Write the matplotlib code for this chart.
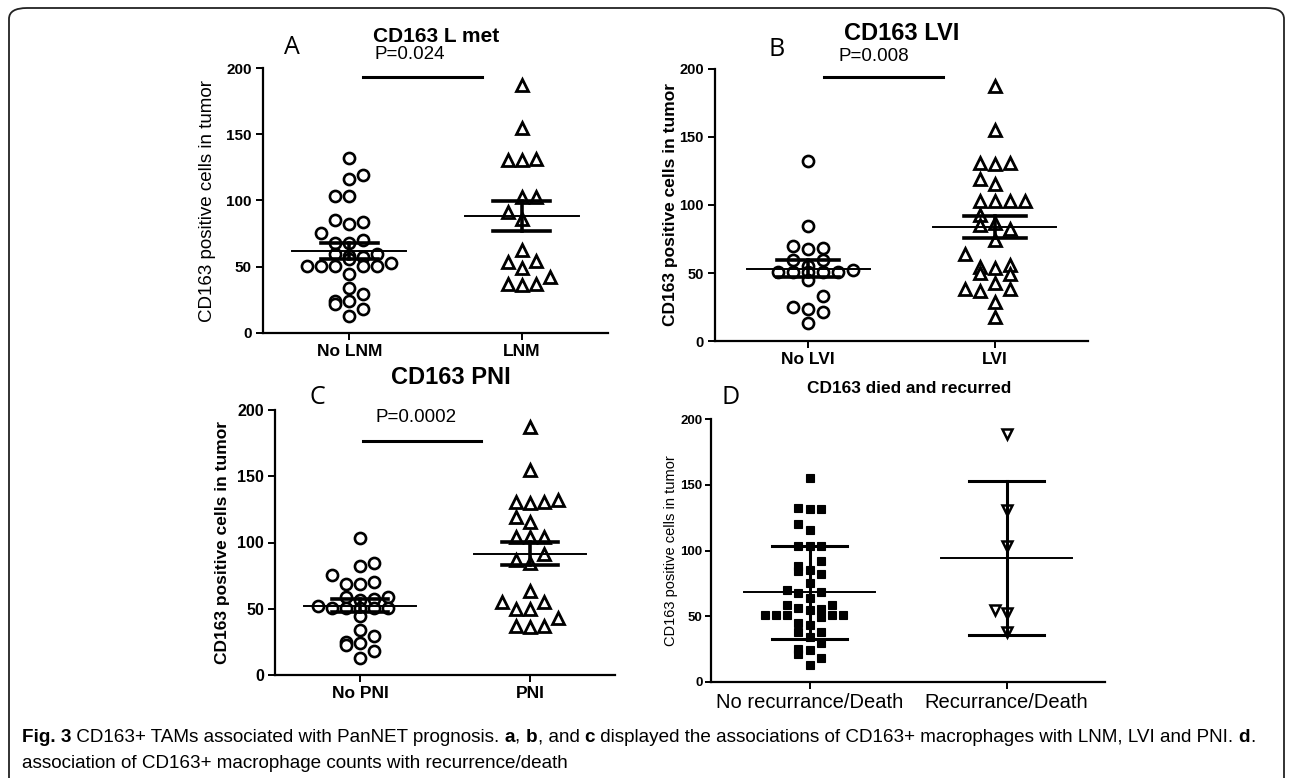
import matplotlib

matplotlib.use("Agg")
import matplotlib.pyplot as plt
from matplotlib import font_manager
from matplotlib.patches import FancyBboxPatch

plt.rcParams["font.family"] = ["Liberation Sans", "DejaVu Sans"]

# ---- data: (value, column slot) ----
a_no_lnm = [132.4, 116.3, 119.5, 103.7, 103.2, 85.2, 82.2, 84.0, 75.2, 68.3, 68.3, 70.1,
            59.3, 58.0, 57.5, 59.3, 55.5, 50.4, 50.4, 50.4, 50.4, 50.4, 52.5, 44.4,
            33.8, 29.3, 24.2, 22.2, 24.2, 17.9, 12.9]
a_no_lnm_slot = [0, 0, 1, -1, 0, -1, 0, 1, -2, -1, 0, 1,
                 -1, 0, 1, 2, 0, -3, -2, -1, 1, 2, 3, 0,
                 0, 1, -1, -1, 0, 1, 0]
a_lnm = [187.4, 154.6, 130.6, 130.6, 131.4, 102.9, 102.9, 91.5, 85.8, 63.0, 53.7, 48.7,
         54.5, 37.3, 36.6, 37.3, 42.4]
a_lnm_slot = [0, 0, -1, 0, 1, 0, 1, -1, 0, 0, -1, 0, 1, -1, 0, 1, 2]

b_no_lvi = [132.5, 84.2, 70.2, 67.5, 68.2, 59.6, 55.5, 59.6, 50.6, 50.6, 50.6, 50.6,
            50.6, 52.3, 44.9, 33.4, 25.3, 23.3, 21.6, 13.0]
b_no_lvi_slot = [0, 0, -1, 0, 1, -1, 0, 1, -2, -1, 0, 1, 2, 3, 0, 1, -1, 0, 1, 0]
b_lvi = [187.7, 154.8, 130.8, 130.0, 130.8, 119.3, 115.3, 102.6, 102.6, 102.6, 103.3,
         92.8, 85.4, 87.1, 82.2, 74.4, 63.8, 54.7, 53.5, 56.0, 49.8, 49.3, 42.5,
         38.3, 37.1, 38.0, 29.0, 17.9]
b_lvi_slot = [0, 0, -1, 0, 1, -1, 0, -1, 0, 1, 2, -1, -1, 0, 1, 0, -2, -1, 0, 1, -1, 1,
              0, -2, -1, 1, 0, 0]

c_no_pni = [103.1, 82.5, 84.3, 75.5, 68.4, 68.4, 70.2, 59.1, 56.6, 57.4, 59.1, 52.1,
            50.3, 50.3, 50.3, 50.3, 50.3, 44.5, 34.0, 29.7, 25.2, 22.6, 23.9, 18.4, 13.1]
c_no_pni_slot = [0, 0, 1, -2, -1, 0, 1, -1, 0, 1, 2, -3, -2, -1, 0, 1, 2, 0, 0, 1, -1,
                 -1, 0, 1, 0]
c_pni = [187.4, 154.7, 130.8, 130.1, 130.8, 132.1, 119.5, 115.2, 104.4, 104.4, 104.4,
         91.3, 86.8, 84.8, 63.6, 54.8, 49.6, 49.6, 54.8, 37.2, 36.5, 37.2, 42.8]
c_pni_slot = [0, 0, -1, 0, 1, 2, -1, 0, -1, 0, 1, 1, -1, 0, 0, -2, -1, 0, 1, -1, 0, 1, 2]

d_no_rec = [155.1, 132.2, 131.2, 131.2, 119.8, 115.7, 103.6, 103.6, 103.6, 91.9, 88.0,
            84.3, 85.0, 82.5, 75.4, 70.3, 67.8, 68.3, 64.0, 58.9, 58.9, 56.3, 54.6, 55.8,
            50.8, 50.8, 50.8, 49.5, 50.8, 50.8, 44.9, 43.7, 38.1, 38.1, 34.3, 29.7, 25.4,
            21.6, 24.1, 18.3, 13.2]
d_no_rec_slot = [0, -1, 0, 1, -1, 0, -1, 0, 1, 1, -1, -1, 0, 1, 0, -2, -1, 1, 0, -2, 2,
                 -1, 0, 1, -4, -3, -2, 1, 2, 3, -1, 0, -1, 1, 0, 1, -1, -1, 0, 1, 0]
d_rec = [188.3, 130.7, 103.6, 54.6, 52.8, 38.1]
d_rec_slot = [0, 0, 0, -1, 0, 0]

# mean, lower, upper of the summary lines
a_stats = [(61.8, 56.2, 67.6), (88.3, 76.9, 99.6)]
b_stats = [(53.3, 46.9, 59.6), (83.7, 75.6, 92.0)]
c_stats = [(52.1, 47.8, 57.4), (91.6, 83.0, 100.6)]
d_stats = [(68.3, 33.0, 103.3), (94.2, 36.0, 152.5)]

a_cats = ["No LNM", "LNM"]
b_cats = ["No LVI", "LVI"]
c_cats = ["No PNI", "PNI"]
d_cats = ["No recurrance/Death", "Recurrance/Death"]

p_text = {"A": "P=0.024", "B": "P=0.008", "C": "P=0.0002"}
ylab = "CD163 positive cells in tumor"

W, H = 1292, 778
fig = plt.figure(figsize=(W / 100, H / 100), dpi=100)


def frac(x, y):
    return x / W, 1 - y / H


def make_ax(left, top, right, bottom):
    x0, y1 = frac(left, top)
    x1, y0 = frac(right, bottom)
    ax = fig.add_axes([x0, y0, x1 - x0, y1 - y0])
    ax.set_xlim(-0.5, 1.5)
    ax.set_ylim(0, 200)
    for s in ["top", "right"]:
        ax.spines[s].set_visible(False)
    for s in ["left", "bottom"]:
        ax.spines[s].set_linewidth(1.6)
    ax.set_yticks([0, 50, 100, 150, 200])
    ax.set_xticks([0, 1])
    ax.tick_params(direction="out", width=1.4, length=5, pad=3)
    return ax


def place_ylabel(ax, text, x_px, left, right, **kw):
    ax.set_ylabel(text, **kw)
    ax.yaxis.label.set_verticalalignment("center")
    ax.yaxis.set_label_coords((x_px - left) / (right - left), 0.5)


def swarm(ax, pos, vals, slots, dx, **kw):
    xs = [pos + s * dx for s in slots]
    ax.plot(xs, vals, linestyle="none", zorder=2, clip_on=False, **kw)


def summary(ax, stats, mean_hw=0.33, cap_hw=0.166, lw_bar=2.6, lw_mean=1.4):
    for i, (m, lo, hi) in enumerate(stats):
        ax.plot([i - mean_hw, i + mean_hw], [m, m], color="black", lw=lw_mean, zorder=3)
        ax.plot([i - cap_hw, i + cap_hw], [lo, lo], color="black", lw=lw_bar, zorder=3)
        ax.plot([i - cap_hw, i + cap_hw], [hi, hi], color="black", lw=lw_bar, zorder=3)
        ax.plot([i, i], [lo, hi], color="black", lw=lw_bar, zorder=3)


def bold_yticks(ax, size):
    for t in ax.get_yticklabels():
        t.set_fontsize(size)
        t.set_fontweight("bold")


circ = dict(marker="o", markersize=8.0, markerfacecolor="white",
            markeredgecolor="black", markeredgewidth=1.9)
tri = dict(marker="^", markersize=8.0, markerfacecolor="white",
           markeredgecolor="black", markeredgewidth=2.0)

# ---- panel A ----
axA = make_ax(263, 68, 608, 333)
swarm(axA, 0, a_no_lnm, a_no_lnm_slot, 0.081, **circ)
swarm(axA, 1, a_lnm, a_lnm_slot, 0.081, **tri)
summary(axA, a_stats)
axA.set_xticklabels(a_cats, fontsize=12.5, fontweight="bold")
bold_yticks(axA, 11)
place_ylabel(axA, ylab, 207, 263, 608, fontsize=13.5)
axA.plot([0.08, 0.77], [193, 193], color="black", lw=2.2, clip_on=False)
axA.text(0.35, 210, p_text["A"], ha="center", va="center", fontsize=13.5, clip_on=False)

# ---- panel B ----
axB = make_ax(715, 69, 1088, 341)
swarm(axB, 0, b_no_lvi, b_no_lvi_slot, 0.08, **circ)
swarm(axB, 1, b_lvi, b_lvi_slot, 0.08, **tri)
summary(axB, b_stats)
axB.set_xticklabels(b_cats, fontsize=12.5, fontweight="bold")
bold_yticks(axB, 10.5)
place_ylabel(axB, ylab, 671, 715, 1088, fontsize=12.5, fontweight="bold")
axB.plot([0.086, 0.72], [194, 194], color="black", lw=2.2, clip_on=False)
axB.text(0.35, 209, p_text["B"], ha="center", va="center", fontsize=13.5, clip_on=False)

# ---- panel C ----
axC = make_ax(275, 410, 615, 675)
swarm(axC, 0, c_no_pni, c_no_pni_slot, 0.083, **circ)
swarm(axC, 1, c_pni, c_pni_slot, 0.083, **tri)
summary(axC, c_stats)
axC.set_xticklabels(c_cats, fontsize=12.5, fontweight="bold")
bold_yticks(axC, 11.5)
place_ylabel(axC, ylab, 223, 275, 615, fontsize=12.5, fontweight="bold")
axC.plot([0.02, 0.71], [176.6, 176.6], color="black", lw=2.2, clip_on=False)
axC.text(0.33, 194, p_text["C"], ha="center", va="center", fontsize=13.5, clip_on=False)

# ---- panel D ----
axD = make_ax(711, 419, 1105, 682)
axD.tick_params(axis="y", length=4, pad=2)
sq = dict(marker="s", markersize=6.0, markerfacecolor="black",
          markeredgecolor="black", markeredgewidth=0.8)
vtri = dict(marker="v", markersize=6.5, markerfacecolor="white",
            markeredgecolor="black", markeredgewidth=1.8)
swarm(axD, 0, d_no_rec, d_no_rec_slot, 0.056, **sq)
swarm(axD, 1, d_rec, d_rec_slot, 0.056, **vtri)
summary(axD, d_stats, mean_hw=0.33, cap_hw=0.19, lw_bar=2.2, lw_mean=1.4)
axD.set_xticklabels(d_cats, fontsize=14.5)
bold_yticks(axD, 9.5)
place_ylabel(axD, ylab, 671, 711, 1105, fontsize=10.5)

# ---- titles and panel letters ----
titles = [("CD163 L met", 436, 37, 15), ("CD163 LVI", 902, 33, 17),
          ("CD163 PNI", 451, 378, 17), ("CD163 died and recurred", 909, 388, 12.4)]
for txt, x, y, fs in titles:
    fig.text(*frac(x, y), txt, ha="center", va="center", fontsize=fs, fontweight="bold")

letters = [("A", 292, 48), ("B", 777, 50), ("C", 317, 397), ("D", 731, 398)]
for txt, x, y in letters:
    fig.text(*frac(x, y), txt, ha="center", va="center", fontsize=18, family="Open Sans")

# ---- frame ----
fx0, fy1 = frac(9, 8)
fx1, fy0 = frac(1284, 800)
frame = FancyBboxPatch((fx0, fy0), fx1 - fx0, fy1 - fy0, transform=fig.transFigure,
                       boxstyle="round,pad=0,rounding_size=0.014", fill=False,
                       edgecolor="#222222", lw=1.3, clip_on=False)
fig.patches.append(frame)

# ---- caption with mixed bold ----
cap_family = "Liberation Sans Narrow"
try:
    font_manager.findfont(cap_family, fallback_to_default=False)
except Exception:
    cap_family = "Liberation Sans"

line1 = [("Fig. 3", True), (" CD163+ TAMs associated with PanNET prognosis. ", False),
         ("a", True), (", ", False), ("b", True), (", and ", False), ("c", True),
         (" displayed the associations of CD163+ macrophages with LNM, LVI and PNI. ", False),
         ("d", True), (".", False)]
line2 = [("association of CD163+ macrophage counts with recurrence/death", False)]

renderer = fig.canvas.get_renderer()
for parts, y in [(line1, 737), (line2, 764)]:
    x = 22
    for txt, bold in parts:
        t = fig.text(*frac(x, y), txt, ha="left", va="center", fontsize=13.6,
                     family=cap_family, fontweight="bold" if bold else "normal")
        x += t.get_window_extent(renderer).width

fig.savefig("out.png", dpi=100, facecolor="white")
